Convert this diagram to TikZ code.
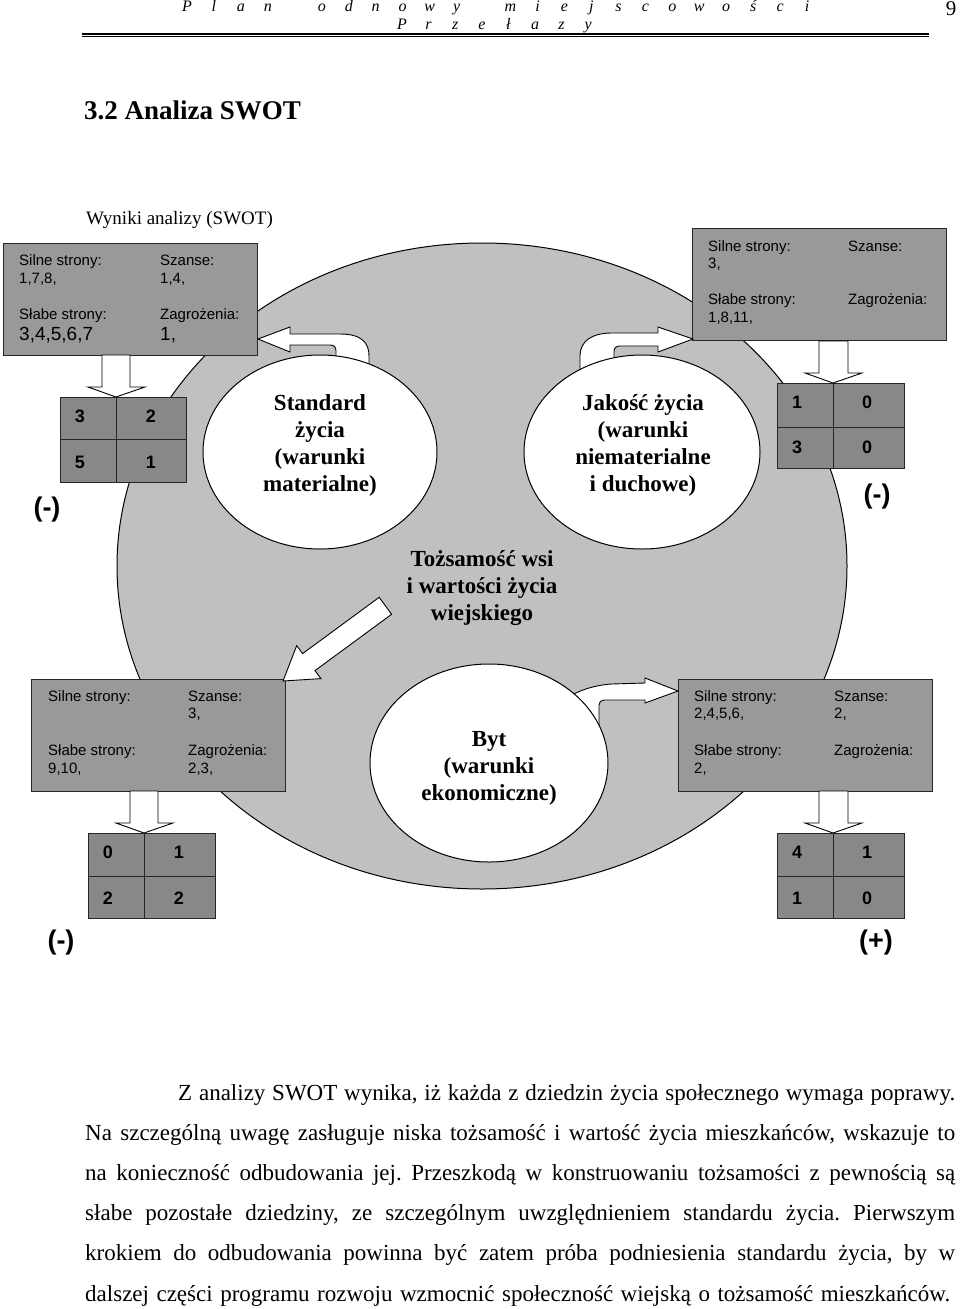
\documentclass[tikz,border=0pt]{standalone}
\usepackage{fontspec}
\setmainfont{Liberation Serif}
\newfontfamily\arialf{Liberation Sans}
\usetikzlibrary{shapes.geometric}
\definecolor{bigc}{RGB}{192,192,192}
\definecolor{boxc}{RGB}{153,153,153}
\definecolor{quadc}{RGB}{136,136,136}
\frenchspacing
\begin{document}
\begin{tikzpicture}[x=1pt,y=-1pt,
 swotbox/.style={draw=black!85, line width=0.9pt, fill=boxc, minimum width=254pt, minimum height=112pt, inner sep=0pt, outer sep=0pt},
 lbl/.style={font=\arialf\fontsize{15}{18}\selectfont, anchor=base west, inner sep=0pt},
 biglbl/.style={font=\arialf\fontsize{19}{22}\selectfont, anchor=base west, inner sep=0pt},
 quadfill/.style={draw=black!85, line width=0.9pt, fill=quadc},
 quadline/.style={draw=black!85, line width=0.9pt},
 qnum/.style={font=\arialf\bfseries\fontsize{18}{20}\selectfont, inner sep=0pt},
 sign/.style={font=\arialf\bfseries\fontsize{27}{30}\selectfont, inner sep=0pt},
 blockarrow/.style={draw=black, line width=0.9pt, fill=white, line join=miter},
 whiteell/.style={draw=black, line width=1pt, fill=white, ellipse, inner sep=0pt, outer sep=0pt},
 eltext/.style={font=\bfseries\fontsize{23}{27}\selectfont, align=center, inner sep=0pt},
 hdr/.style={font=\itshape\fontsize{16}{18}\selectfont, anchor=base, inner sep=0pt},
 bodyl/.style={font=\fontsize{23}{40}\selectfont, anchor=base west, inner sep=0pt},
]
\useasboundingbox (0,0) rectangle (960,1309);
\fill[white] (0,0) rectangle (960,1309);

% header
\foreach \c [count=\i from 0] in {P,l,a,n,{},o,d,n,o,w,y,{},m,i,e,j,s,c,o,w,o,ś,c,i}
  \node[hdr] (ha\i) at ({187+\i*26.96},12) {\c};
\foreach \c [count=\i from 0] in {P,r,z,e,ł,a,z,y}
  \node[hdr] (hb\i) at ({402+\i*26.6},29) {\c};
\node[font=\fontsize{21}{24}\selectfont, anchor=base, inner sep=0pt] (pg) at (951,16) {9};
\draw[line width=1.6pt] (82,33.8) -- (929,33.8);
\draw[line width=0.6pt] (82,36.4) -- (929,36.4);

\node[font=\bfseries\fontsize{27}{30}\selectfont, anchor=base west, inner sep=0pt] (sec) at (84,119) {3.2 Analiza SWOT};
\node[font=\fontsize{19}{22}\selectfont, anchor=base west, inner sep=0pt] (wyn) at (86,224) {Wyniki analizy (SWOT)};

% big ellipse
\node[ellipse, draw=black, line width=1pt, fill=bigc, minimum width=730pt, minimum height=646pt, inner sep=0pt] (big) at (482,566) {};

% boxes
\node[swotbox] (tl) at (130,299) {};
\node[lbl] (tl1) at (19,265) {Silne strony:};
\node[lbl] (tl2) at (19,283) {1,7,8,};
\node[lbl] (tl3) at (19,319) {Słabe strony:};
\node[biglbl] (tl4) at (19,340) {3,4,5,6,7};
\node[lbl] (tl5) at (160,265) {Szanse:};
\node[lbl] (tl6) at (160,283) {1,4,};
\node[lbl] (tl7) at (160,319) {Zagrożenia:};
\node[biglbl] (tl8) at (160,340) {1,};

\node[swotbox] (tr) at (819,284.5) {};
\node[lbl] (tr1) at (708,251) {Silne strony:};
\node[lbl] (tr2) at (708,268) {3,};
\node[lbl] (tr3) at (708,304) {Słabe strony:};
\node[lbl] (tr4) at (708,322) {1,8,11,};
\node[lbl] (tr5) at (848,251) {Szanse:};
\node[lbl] (tr7) at (848,304) {Zagrożenia:};

\node[swotbox] (ml) at (158.5,735) {};
\node[lbl] (ml1) at (48,701) {Silne strony:};
\node[lbl] (ml3) at (48,755) {Słabe strony:};
\node[lbl] (ml4) at (48,773) {9,10,};
\node[lbl] (ml5) at (188,701) {Szanse:};
\node[lbl] (ml6) at (188,718) {3,};
\node[lbl] (ml7) at (188,755) {Zagrożenia:};
\node[lbl] (ml8) at (188,773) {2,3,};

\node[swotbox] (mr) at (805,735) {};
\node[lbl] (mr1) at (694,701) {Silne strony:};
\node[lbl] (mr2) at (694,718) {2,4,5,6,};
\node[lbl] (mr3) at (694,755) {Słabe strony:};
\node[lbl] (mr4) at (694,773) {2,};
\node[lbl] (mr5) at (834,701) {Szanse:};
\node[lbl] (mr6) at (834,718) {2,};
\node[lbl] (mr7) at (834,755) {Zagrożenia:};

% quadrant tables
\draw[quadfill] (60,397) rectangle (186,482);
\draw[quadline] (116,397) -- (116,482) (60,439) -- (186,439);
\node[qnum] (qa1) at (80,416) {3};
\node[qnum] (qa2) at (151,416) {2};
\node[qnum] (qa3) at (80,462) {5};
\node[qnum] (qa4) at (151,462) {1};

\draw[quadfill] (777,383) rectangle (904,468);
\draw[quadline] (833,383) -- (833,468) (777,427) -- (904,427);
\node[qnum] (qb1) at (797,402) {1};
\node[qnum] (qb2) at (867,402) {0};
\node[qnum] (qb3) at (797,447) {3};
\node[qnum] (qb4) at (867,447) {0};

\draw[quadfill] (88,833) rectangle (215,918);
\draw[quadline] (144,833) -- (144,918) (88,876) -- (215,876);
\node[qnum] (qc1) at (108,852) {0};
\node[qnum] (qc2) at (179,852) {1};
\node[qnum] (qc3) at (108,898) {2};
\node[qnum] (qc4) at (179,898) {2};

\draw[quadfill] (777,833) rectangle (904,918);
\draw[quadline] (833,833) -- (833,918) (777,876) -- (904,876);
\node[qnum] (qd1) at (797,852) {4};
\node[qnum] (qd2) at (867,852) {1};
\node[qnum] (qd3) at (797,898) {1};
\node[qnum] (qd4) at (867,898) {0};

\node[sign] (s1) at (47,510) {(-)};
\node[sign] (s2) at (877,497) {(-)};
\node[sign] (s3) at (61,943) {(-)};
\node[sign] (s4) at (876,943) {(+)};

% down arrows
\draw[blockarrow] (102,355) -- (102,387) -- (88,387) -- (116,397) -- (145,387) -- (130,387) -- (130,355) -- cycle;
\draw[blockarrow] (819,341) -- (819,373) -- (805,373) -- (833,383) -- (862,373) -- (848,373) -- (848,341) -- cycle;
\draw[blockarrow] (130,791) -- (130,823) -- (116,823) -- (144,833) -- (173,823) -- (158,823) -- (158,791) -- cycle;
\draw[blockarrow] (819,791) -- (819,823) -- (805,823) -- (833,833) -- (862,823) -- (848,823) -- (848,791) -- cycle;

% curved arrows
\draw[blockarrow] (258,339) -- (290,327) -- (290,334) -- (340,334) .. controls (362,334) and (369,343) .. (369,356) -- (369,372) -- (336,372) -- (336,351) .. controls (336,347) and (334,345) .. (330,345) -- (290,345) -- (290,352) -- cycle;
\draw[blockarrow] (693,339) -- (658,327) -- (658,333) -- (612,333) .. controls (592,333) and (580,341) .. (580,356) -- (580,378) -- (614,378) -- (614,352) .. controls (614,348) and (616,346) .. (620,346) -- (658,346) -- (658,352) -- cycle;
\draw[blockarrow] (678,691) -- (645,678) -- (645,683) -- (612,684) .. controls (596,685) and (582,689) .. (566,698) -- (580,735) -- (599,735) -- (599,705) .. controls (599,702) and (601,700) .. (604,700) -- (645,700) -- (645,703) -- cycle;

% diagonal arrow
\draw[blockarrow] (283,681) -- (320.9,678.6) -- (315.0,670.6) -- (391.6,614.3) -- (379.2,597.3) -- (302.6,653.6) -- (296.7,645.6) -- cycle;

% white ellipses
\node[whiteell, minimum width=234pt, minimum height=194pt] (std) at (320,452) {};
\node[whiteell, minimum width=236pt, minimum height=194pt] (jak) at (642,452) {};
\node[whiteell, minimum width=238pt, minimum height=198pt] (byt) at (489,763) {};

\node[eltext] (stdt) at (320,445) {Standard\\życia\\(warunki\\materialne)};
\node[eltext] (jakt) at (643,445) {Jakość życia\\(warunki\\niematerialne\\i duchowe)};
\node[eltext] (tozt) at (482,588) {Tożsamość wsi\\i wartości życia\\wiejskiego};
\node[eltext] (bytt) at (489,768) {Byt\\(warunki\\ekonomiczne)};

% body text
\node[bodyl] (b1) at (178,1100) {\makebox[777pt][s]{Z analizy SWOT wynika, iż każda z dziedzin życia społecznego wymaga poprawy.}};
\node[bodyl] (b2) at (85,1140.2) {\makebox[870pt][s]{Na szczególną uwagę zasługuje niska tożsamość i wartość życia mieszkańców, wskazuje to}};
\node[bodyl] (b3) at (85,1180.4) {\makebox[870pt][s]{na konieczność odbudowania jej. Przeszkodą w konstruowaniu tożsamości z pewnością są}};
\node[bodyl] (b4) at (85,1220.6) {\makebox[870pt][s]{słabe pozostałe dziedziny, ze szczególnym uwzględnieniem standardu życia. Pierwszym}};
\node[bodyl] (b5) at (85,1260.8) {\makebox[870pt][s]{krokiem do odbudowania powinna być zatem próba podniesienia standardu życia, by w}};
\node[bodyl] (b6) at (85,1301) {\makebox[865pt][s]{dalszej części programu rozwoju wzmocnić społeczność wiejską o tożsamość mieszkańców.}};
\end{tikzpicture}
\end{document}
